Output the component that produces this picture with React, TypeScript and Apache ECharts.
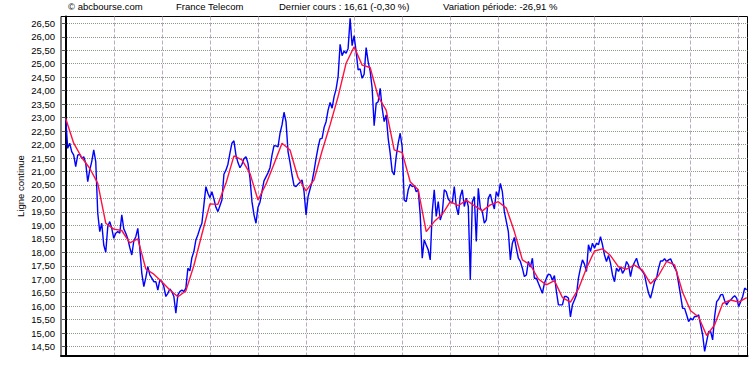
import React, { useEffect, useRef } from "react";
import * as echarts from "echarts";

// Trading-day index 0..340, one closing price per day
const closePrices: number[] = [
  22.97, 21.86, 22.05, 21.74, 21.61, 21.18, 21.61, 21.64, 21.49, 21.55, 21.31, 20.62,
  21.05, 21.37, 21.8, 21.37, 19.45, 18.77, 19.08, 18.27, 18.0, 18.95, 19.14, 18.89,
  18.52, 18.71, 18.77, 18.71, 19.39, 18.87, 18.71, 18.5, 18.18, 17.9, 18.42, 18.58,
  18.89, 18.15, 17.22, 16.73, 17.06, 17.47, 17.16, 17.04, 16.91, 16.91, 16.6, 16.98,
  16.91, 16.73, 16.36, 16.48, 16.64, 16.54, 16.36, 15.74, 16.42, 16.54, 16.6, 16.54,
  16.67, 17.41, 17.31, 17.8, 18.03, 18.46, 18.65, 18.89, 19.08, 19.76, 20.44, 20.19,
  20.03, 20.25, 19.98, 19.67, 19.51, 19.73, 19.94, 20.9, 21.05, 21.27, 21.68, 22.05,
  22.14, 21.61, 21.33, 21.14, 21.27, 21.47, 21.55, 21.31, 20.75, 19.88, 19.39, 19.08,
  19.67, 19.86, 20.25, 20.65, 20.8, 20.95, 21.14, 21.61, 21.96, 21.95, 21.91, 22.42,
  22.73, 23.2, 22.85, 21.74, 21.33, 20.87, 20.48, 20.44, 20.53, 20.6, 20.69, 20.25,
  19.39, 20.07, 20.35, 20.62, 21.02, 21.49, 21.89, 22.21, 22.23, 22.63, 22.85, 23.28,
  23.56, 23.35, 23.78, 24.06, 24.52, 25.72, 25.3, 25.47, 25.39, 25.57, 26.69, 25.67,
  26.04, 25.45, 24.77, 24.81, 24.46, 24.61, 25.6, 25.08, 24.73, 24.09, 22.7, 23.53,
  23.59, 24.09, 23.35, 22.85, 23.1, 22.23, 21.68, 21.0, 20.87, 21.55, 22.05, 22.42,
  21.9, 19.94, 19.88, 20.32, 20.53, 20.44, 20.48, 20.25, 20.32, 19.39, 17.78, 18.46,
  18.27, 18.09, 17.72, 19.51, 20.32, 19.33, 19.88, 19.2, 19.45, 20.32, 20.25, 19.98,
  19.88, 19.82, 20.44, 19.7, 19.39, 20.07, 20.32, 19.7, 20.01, 19.7, 16.98, 19.88,
  20.07, 18.4, 20.38, 19.64, 19.51, 19.08, 19.2, 20.01, 20.16, 19.86, 19.61, 20.25,
  20.07, 20.56, 20.25, 19.51, 19.14, 18.77, 17.72, 18.34, 18.55, 18.15, 17.78, 17.66,
  17.41, 17.1, 17.16, 17.66, 17.45, 17.78, 17.04, 17.04, 16.85, 16.67, 16.48, 16.85,
  17.04, 17.19, 17.16, 16.96, 17.14, 16.54, 16.05, 16.05, 16.05, 16.36, 16.36, 16.3,
  15.6, 16.05, 16.23, 16.42, 17.04, 17.41, 17.72, 17.56, 17.29, 18.28, 18.03, 18.34,
  18.15, 18.34, 18.28, 18.58, 18.28, 17.9, 17.66, 17.88, 17.6, 17.16, 16.91, 17.41,
  17.29, 17.46, 17.22, 17.35, 17.66, 17.53, 17.1, 17.47, 17.63, 17.78, 17.51, 17.38,
  17.29, 17.16, 16.79, 16.48, 16.3, 16.6, 16.91, 17.04, 17.41, 17.68, 17.68, 17.76,
  17.66, 17.72, 17.76, 17.58, 17.43, 17.29, 16.85, 16.39, 15.92, 15.92, 15.68, 15.43,
  15.55, 15.49, 15.62, 15.62, 15.68, 15.31, 14.94, 14.32, 14.69, 15.06, 15.06, 14.75,
  15.62, 16.17, 16.26, 16.42, 16.44, 16.2, 16.05, 16.17, 16.23, 16.32, 16.39, 16.3,
  15.99, 16.17, 16.36, 16.67, 16.61,
];

// Moving average, one value every maStep days
const maStep = 4;
const movingAverage: number[] = [
  22.97, 22.05, 21.52, 21.12, 20.56, 19.08, 18.86, 18.81, 18.35, 18.5, 17.38, 17.19,
  16.91, 16.6, 16.35, 16.57, 17.51, 18.67, 19.8, 19.78, 20.56, 21.58, 21.43, 20.93,
  19.94, 20.53, 21.28, 22.05, 21.8, 20.77, 20.28, 20.69, 21.76, 22.73, 23.78, 25.02,
  25.63, 24.95, 24.86, 23.78, 23.28, 21.8, 21.7, 20.62, 20.32, 18.77, 19.14, 19.41,
  19.88, 19.73, 19.94, 19.73, 19.54, 19.76, 19.88, 19.64, 18.77, 17.72, 17.53, 17.01,
  16.79, 16.95, 16.32, 16.15, 16.64, 17.41, 18.05, 18.13, 17.88, 17.46, 17.38, 17.53,
  17.33, 16.83, 17.14, 17.66, 17.53, 16.52, 15.83, 15.6, 14.91, 15.31, 16.1, 16.23,
  16.15, 16.32,
];

// Vertical grid lines (day indices) and price ticks
const gridDays: number[] = [0, 24, 48, 72, 96, 120, 144, 168, 192, 216, 240, 264, 288, 312, 336];
const priceTicks: number[] = [
  14.5, 15, 15.5, 16, 16.5, 17, 17.5, 18, 18.5, 19, 19.5, 20, 20.5, 21, 21.5, 22,
  22.5, 23, 23.5, 24, 24.5, 25, 25.5, 26, 26.5,
];

const headerTexts: string[] = [
  "© abcbourse.com",
  "France Telecom",
  "Dernier cours : 16,61 (-0,30 %)",
  "Variation période: -26,91 %",
];
const headerX: number[] = [68, 176, 279, 443];
const yAxisTitle = "Ligne continue";

const FONT = '"Liberation Sans", Arial, sans-serif';

export default function App() {
  const ref = useRef<HTMLDivElement>(null);
  useEffect(() => {
    if (!ref.current) return;
    const chart = echarts.init(ref.current, undefined, { renderer: "svg" });
    const option: any = {
      animation: false,
      backgroundColor: "#ffffff",
      grid: {
        left: 61,
        top: 16.5,
        width: 686.5,
        height: 339.5,
        show: true,
        borderColor: "#000000",
        borderWidth: 1,
        backgroundColor: "#ffffff",
      },
      xAxis: {
        type: "value",
        min: -2.346,
        max: 340.4,
        axisLine: { show: true, onZero: false, lineStyle: { color: "#000", width: 2 } },
        axisTick: { show: false, customValues: gridDays },
        axisLabel: { show: false, customValues: gridDays },
        splitLine: { show: true, lineStyle: { color: "#bcaac4", type: [4, 2], width: 1 } },
      },
      yAxis: {
        type: "value",
        min: 14.151,
        max: 26.754,
        axisLine: { show: true, lineStyle: { color: "#000", width: 2 } },
        axisTick: { show: true, length: 4, customValues: priceTicks, lineStyle: { color: "#555" } },
        axisLabel: {
          customValues: priceTicks,
          formatter: (v: number) => v.toFixed(2).replace(".", ","),
          fontFamily: FONT,
          fontSize: 9.5,
          color: "#000",
          margin: 6,
        },
        splitLine: { show: true, lineStyle: { color: "#8a9a82", type: [1, 1], width: 1 } },
      },
      graphic: [
        ...headerTexts.map((t, i) => ({
          type: "text",
          x: headerX[i],
          y: 6,
          style: {
            text: t,
            font: `9.5px ${FONT}`,
            fill: "#000",
            textVerticalAlign: "middle",
          },
        })),
        {
          type: "text",
          x: 20,
          y: 186,
          rotation: Math.PI / 2,
          style: {
            text: yAxisTitle,
            font: `9.5px ${FONT}`,
            fill: "#000",
            textAlign: "center",
            textVerticalAlign: "middle",
          },
        },
      ],
      series: [
        {
          type: "line",
          data: closePrices.map((v, i) => [i, v]),
          showSymbol: false,
          lineStyle: { color: "#0000ff", width: 1.4 },
          z: 2,
        },
        {
          type: "line",
          data: movingAverage.map((v, i) => [i * maStep, v]),
          showSymbol: false,
          lineStyle: { color: "#ff1040", width: 1.4 },
          z: 3,
        },
      ],
    };
    chart.setOption(option);
    return () => chart.dispose();
  }, []);
  return (
    <div
      ref={ref}
      style={{ position: "fixed", left: 0, top: 0, width: 750, height: 370, background: "#fff" }}
    />
  );
}
